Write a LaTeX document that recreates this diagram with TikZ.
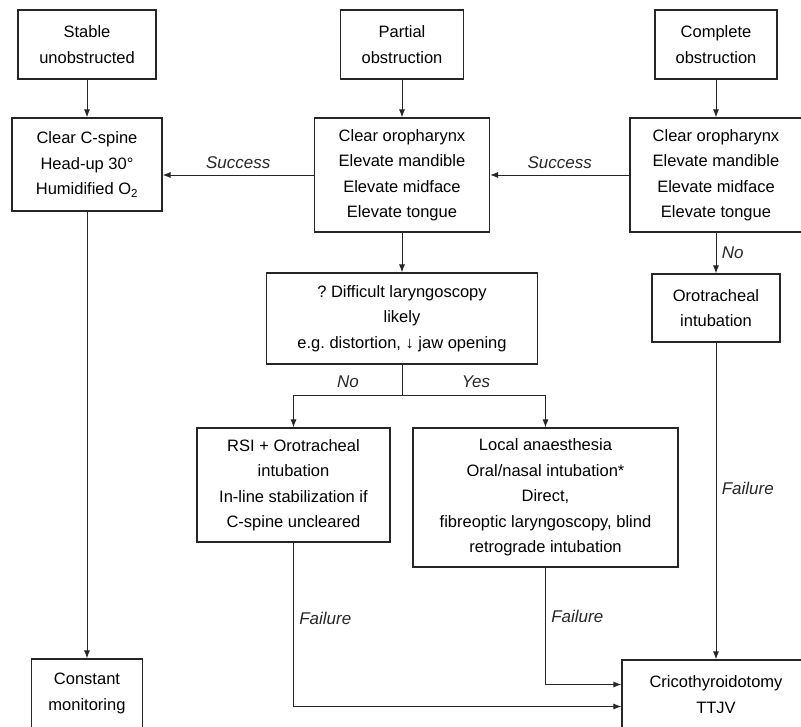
\documentclass[tikz,border=0pt]{standalone}
\usepackage{fontspec}
\setmainfont{Liberation Sans}
\frenchspacing
\usetikzlibrary{arrows.meta}
\tikzset{
  box/.style={draw=black!85, line width=1.1pt, align=center, inner sep=0pt,
    font=\fontsize{16.5}{25.5}\selectfont},
  lbl/.style={font=\fontsize{17}{20}\selectfont\itshape, text=black!85},
  flow/.style={draw=black!85, line width=1pt, -{Latex[length=8pt,width=6pt]}},
  plain/.style={draw=black!85, line width=1pt}
}

\begin{document}
\begin{tikzpicture}[x=1pt,y=-1pt]
    \useasboundingbox (0,0) rectangle (801,726);

    \node[box, minimum width=138pt, minimum height=69pt] (stable) at (87,44.5) {Stable\\unobstructed};
    \node[box, minimum width=123pt, minimum height=69pt] (partial) at (402,44.5) {Partial\\obstruction};
    \node[box, minimum width=122pt, minimum height=69pt] (complete) at (716,44.5) {Complete\\obstruction};

    \node[box, minimum width=150pt, minimum height=93pt] (cspine) at (87,164.5) {Clear C-spine\\Head-up 30°\\Humidified O\textsubscript{2}};
    \node[box, minimum width=175pt, minimum height=114pt] (clearmid) at (402,175) {Clear oropharynx\\Elevate mandible\\Elevate midface\\Elevate tongue};
    \node[box, minimum width=172pt, minimum height=114pt] (clearright) at (716,175) {Clear oropharynx\\Elevate mandible\\Elevate midface\\Elevate tongue};

    \node[box, minimum width=271pt, minimum height=91pt] (difficult) at (402,318.5) {? Difficult laryngoscopy\\likely\\e.g. distortion, ↓ jaw opening};
    \node[box, minimum width=128pt, minimum height=68pt] (oro) at (716,308) {Orotracheal\\intubation};

    \node[box, minimum width=193pt, minimum height=114pt] (rsi) at (293.5,485) {RSI + Orotracheal\\intubation\\In-line stabilization if\\C-spine uncleared};
    \node[box, minimum width=265pt, minimum height=139pt] (local) at (545.5,497.5) {Local anaesthesia\\Oral/nasal intubation*\\Direct,\\fibreoptic laryngoscopy, blind\\retrograde intubation};

    \node[box, minimum width=111pt, minimum height=69pt] (monitor) at (87,693.5) {Constant\\monitoring};
    \node[box, minimum width=188pt, minimum height=69pt] (crico) at (716,694.5) {Cricothyroidotomy\\TTJV};

    \coordinate (split) at (402,395);

    \draw[flow] (stable) -- (cspine);
    \draw[flow] (partial) -- (clearmid);
    \draw[flow] (complete) -- (clearright);
    \draw[flow] (clearright) -- node[lbl, above=3pt] {Success} (clearmid);
    \draw[flow] (clearmid.west) -- node[lbl, above=3pt] {Success} (clearmid.west -| cspine.east);
    \draw[flow] (cspine) -- (monitor);
    \draw[flow] (clearmid) -- (difficult);
    \draw[flow] (clearright) -- node[lbl, right=2pt] {No} (oro);
    \draw[flow] (oro) -- node[lbl, right=2pt, pos=0.46] {Failure} (crico);

    \draw[plain] (difficult.south) -- (split);
    \draw[flow] (split) -| (rsi);
    \draw[flow] (split) -| (local);
    \node[lbl] (no) at (348,382) {No};
    \node[lbl] (yes) at (476,382) {Yes};

    \draw[flow] (rsi.south) |- node[lbl, right=2pt, pos=0.23] {Failure} ([yshift=-12pt]crico.west);
    \draw[flow] (local.south) |- node[lbl, right=2pt, pos=0.21] {Failure} ([yshift=10pt]crico.west);
\end{tikzpicture}
\end{document}
